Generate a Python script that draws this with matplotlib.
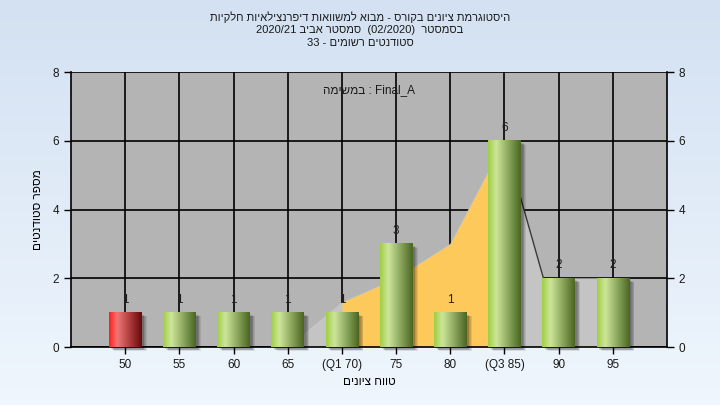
import matplotlib
matplotlib.use("Agg")
import matplotlib.pyplot as plt
import numpy as np
from matplotlib.patches import Rectangle
from matplotlib.colors import to_rgb

plt.rcParams["font.family"] = ["Liberation Sans", "DejaVu Sans"]

# data
grades = [50, 55, 60, 65, 70, 75, 80, 85, 90, 95]
tick_labels = ["50", "55", "60", "65", "(Q1 70)", "75", "80", "(Q3 85)", "90", "95"]
counts = [1, 1, 1, 1, 1, 3, 1, 6, 2, 2]
failed = [True, False, False, False, False, False, False, False, False, False]

# background distribution curve (grade, height)
curve_grades = [65, 70, 75, 80, 85, 88.6, 95, 96.4]
curve_values = [0, 1.3, 2.0, 3.0, 6.0, 2.0, 2.0, 2.0]
q1, q3 = 70, 85

# Hebrew strings given in visual (left-to-right drawing) order
title_lines = [
    "תויקלח תויאליצנרפיד תואוושמל אובמ - סרוקב םינויצ תמרגוטסיה",
    "2020/21 ביבא רטסמס  (02/2020)  רטסמסב",
    "33 - םימושר םיטנדוטס",
]
task_text = "המישמב : Final_A"
xlabel = "םינויצ חווט"
ylabel = "םיטנדוטס רפסמ"


def to_idx(g):
    return (np.asarray(g, dtype=float) - 50) / 5.0


def gradient(left, mid, right, n=64):
    l, m, r = np.array(to_rgb(left)), np.array(to_rgb(mid)), np.array(to_rgb(right))
    t = np.linspace(0, 1, n)
    out = np.zeros((1, n, 3))
    for i, v in enumerate(t):
        if v < 0.25:
            out[0, i] = l + (m - l) * v / 0.25
        else:
            out[0, i] = m + (r - m) * (v - 0.25) / 0.75
    return out


fig = plt.figure(figsize=(7.2, 4.05), dpi=100)

# figure background gradient
bg = fig.add_axes([0, 0, 1, 1], zorder=-10)
top, bot = np.array(to_rgb("#d3e1f2")), np.array(to_rgb("#eff6fd"))
grad = np.linspace(0, 1, 100)[:, None, None] * (bot - top) + top
bg.imshow(np.repeat(grad, 2, axis=1), aspect="auto", extent=[0, 1, 0, 1])
bg.axis("off")

ax = fig.add_axes([0.0986, 0.143, 0.8278, 0.679])
ax.set_facecolor("#b4b4b4")

# distribution area
cx = to_idx(curve_grades)
cy = np.array(curve_values)
px = np.concatenate([[cx[0]], cx, [cx[-1]]])
py = np.concatenate([[0], cy, [0]])
ax.fill(px, py, color="#c4c4c4", zorder=1, lw=0)
xs = np.linspace(to_idx(q1), to_idx(q3), 100)
ax.fill_between(xs, 0, np.interp(xs, cx, cy), color="#fec95b", zorder=1.1, lw=0)
ax.plot(cx[4:6], cy[4:6], color="#3a3a3a", lw=1, zorder=1.2)

ax.grid(True, color="black", lw=1.2, zorder=1.5)
ax.set_axisbelow(True)

x = np.arange(len(grades))
w = 0.6
green = gradient("#a0ce44", "#cde69b", "#4a6620")
red = gradient("#ff2020", "#f17575", "#6a0808")
for xi, c, bad in zip(x, counts, failed):
    # soft shadow
    for k in range(5):
        ax.add_patch(Rectangle((xi - w / 2 + 0.04 + k * 0.014, -0.06 - k * 0.012), w, c,
                               color="black", alpha=0.09, lw=0, zorder=2, clip_on=False))
    ax.imshow(red if bad else green, extent=[xi - w / 2, xi + w / 2, 0, c],
              aspect="auto", interpolation="bicubic", zorder=3)
    ax.annotate(str(c), (xi, c), xytext=(0, 5), textcoords="offset points",
                ha="center", va="bottom", fontsize=8.5, color="#202020", zorder=4)

ax.set_xlim(-1, 10)
ax.set_ylim(0, 8)
ax.set_xticks(x)
ax.set_xticklabels(tick_labels)
ax.set_yticks([0, 2, 4, 6, 8])
ax.tick_params(axis="both", direction="out", length=5, width=1, color="black",
               labelsize=8.5, labelcolor="#1a1a1a")
ax.tick_params(axis="y", right=True, labelright=True)
for s in ax.spines.values():
    s.set_color("black")
    s.set_linewidth(1.2)
ax.spines["top"].set_visible(False)

ax.text(0.5, 0.955, task_text, transform=ax.transAxes, ha="center", va="top",
        fontsize=8.5, color="#1a1a1a", zorder=5)

ax.set_xlabel(xlabel, fontsize=8.5, labelpad=4)
ax.set_ylabel(ylabel, fontsize=8.5, labelpad=6)

for i, line in enumerate(title_lines):
    fig.text(0.5, 1 - (17 + 13 * i) / 405, line, ha="center", va="center",
             fontsize=8, color="#1a1a1a")

fig.savefig("out.png", dpi=100)
